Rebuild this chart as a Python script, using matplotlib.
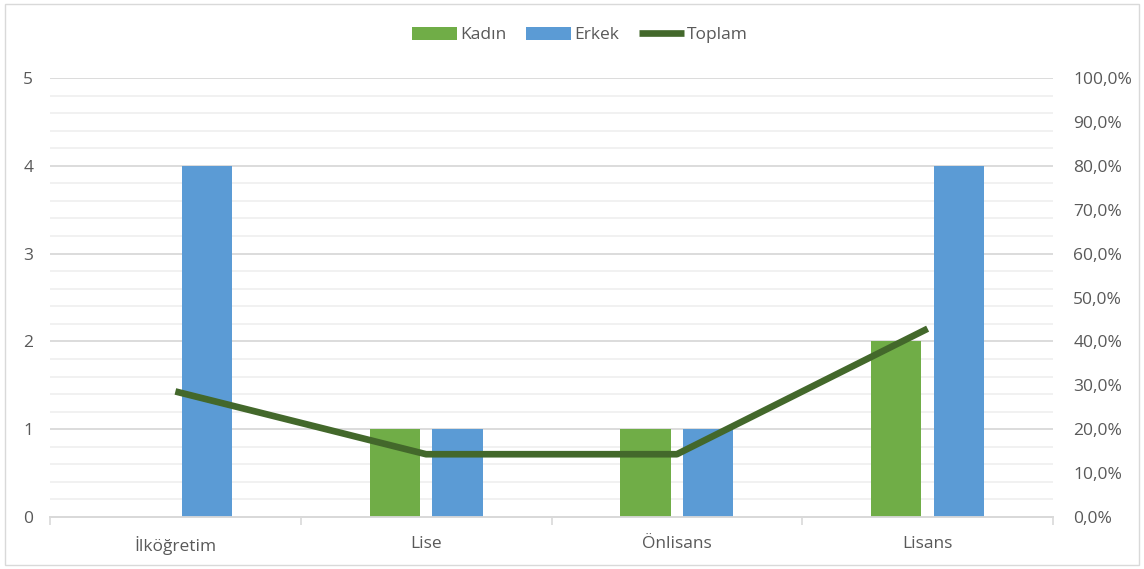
import numpy as np
import matplotlib.pyplot as plt
from matplotlib.patches import Rectangle
from matplotlib.ticker import MultipleLocator, FuncFormatter

categories = ['İlköğretim', 'Lise', 'Önlisans', 'Lisans']
kadin = [0, 1, 1, 2]
erkek = [4, 1, 1, 4]
toplam = [28.6, 14.3, 14.3, 42.9]

plt.rcParams['font.family'] = ['Open Sans', 'DejaVu Sans']
gray_txt = '#595959'
fs = 12.5

fig = plt.figure(figsize=(11.44, 5.69), dpi=100)
ax = fig.add_axes([50 / 1144, 1 - 517 / 569, 1003 / 1144, 439 / 569])
ax2 = ax.twinx()

x = np.arange(len(categories))
w = 0.2
ax.bar(x - 0.125, kadin, w, color='#70AD47', label='Kadın', zorder=3)
ax.bar(x + 0.125, erkek, w, color='#5B9BD5', label='Erkek', zorder=3)
ax2.plot(x, toplam, color='#43682B', lw=4.8, label='Toplam', solid_capstyle='butt', zorder=4)

ax.set_xlim(-0.5, 3.5)
ax.set_ylim(0, 5)
ax2.set_ylim(0, 100)

ax.yaxis.set_major_locator(MultipleLocator(1))
ax.yaxis.set_minor_locator(MultipleLocator(0.2))
ax.grid(axis='y', which='major', color='#D9D9D9', lw=1.3, zorder=0)
ax.grid(axis='y', which='minor', color='#F0F0F0', lw=1.3, zorder=0)
ax.tick_params(axis='y', which='both', length=0, colors=gray_txt, labelsize=fs, pad=12)

ax2.yaxis.set_major_locator(MultipleLocator(10))
ax2.yaxis.set_major_formatter(FuncFormatter(lambda v, p: f'{v:.1f}'.replace('.', ',') + '%'))
ax2.tick_params(axis='y', length=0, colors=gray_txt, labelsize=fs, pad=14.5)

ax.set_xticks(x)
ax.set_xticklabels(categories)
ax.set_xticks(np.arange(-0.5, 4, 1), minor=True)
ax.tick_params(axis='x', which='major', length=0, colors=gray_txt, labelsize=fs, pad=14)
ax.tick_params(axis='x', which='minor', length=6, color='#D9D9D9', width=1.2)

for a in (ax, ax2):
    for s in ('top', 'left', 'right'):
        a.spines[s].set_visible(False)
    a.spines['bottom'].set_color('#D9D9D9')
    a.spines['bottom'].set_linewidth(1.3)
ax.set_axisbelow(True)

h1, l1 = ax.get_legend_handles_labels()
h2, l2 = ax2.get_legend_handles_labels()
fig.legend(h1 + h2, l1 + l2, loc='center', bbox_to_anchor=(580 / 1144, 1 - 35 / 569),
           ncol=3, frameon=False, fontsize=fs, labelcolor=gray_txt,
           handlelength=2.6, handleheight=0.8, handletextpad=0.2, columnspacing=1.1)

fig.patches.append(Rectangle((5 / 1144, 4 / 569), 1134 / 1144, 561 / 569, transform=fig.transFigure,
                             fill=False, edgecolor='#D9D9D9', lw=1))

fig.savefig('out.png', dpi=100)
